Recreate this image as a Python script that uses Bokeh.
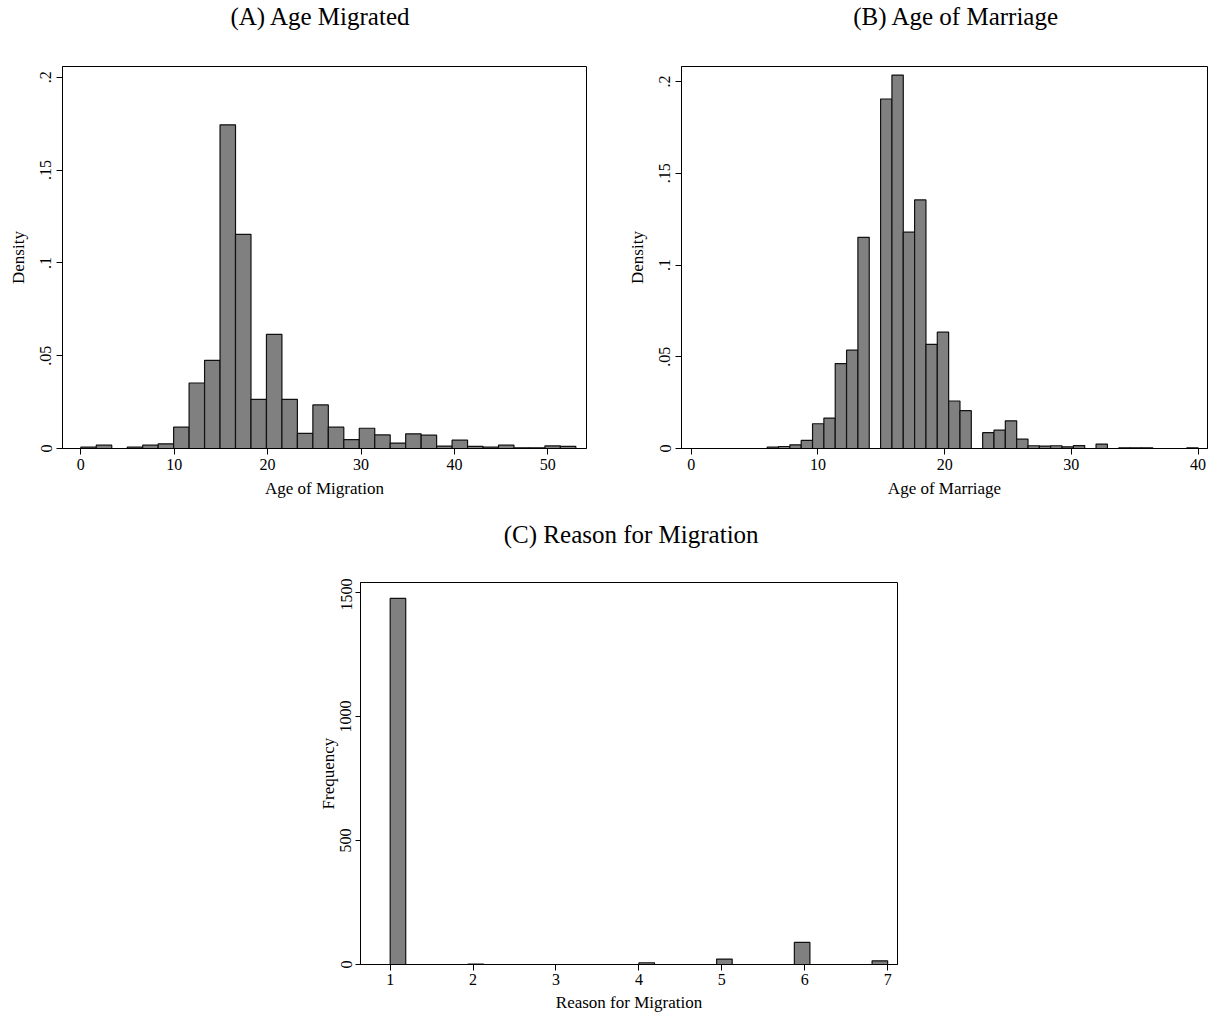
from bokeh.plotting import figure
from bokeh.models import Range1d, FixedTicker, Spacer, CustomJSTickFormatter
from bokeh.layouts import row, column
from bokeh.core.properties import value
from bokeh.embed import file_html
from bokeh.resources import INLINE

# ---------------- data ----------------
# (A) Age migrated: density histogram, 32 equal bins over [0, 53]
mig_bin_start = 0.0
mig_bin_end = 53.0
mig_density = [0.0007, 0.0018, 0.0, 0.0007, 0.0018, 0.0025, 0.0115, 0.0353,
               0.0475, 0.1744, 0.1154, 0.0265, 0.0615, 0.0265, 0.0082, 0.0235,
               0.0115, 0.0048, 0.0109, 0.0073, 0.0029, 0.0079, 0.0072, 0.0013,
               0.0045, 0.0011, 0.0007, 0.0018, 0.0004, 0.0004, 0.0014, 0.0011]
mig_xticks = [0, 10, 20, 30, 40, 50]
mig_yticks = [0, 0.05, 0.1, 0.15, 0.2]
mig_ylabels = ["0", ".05", ".1", ".15", ".2"]

# (B) Age of marriage: density histogram, 38 equal bins over [6, 40]
mar_bin_start = 6.0
mar_bin_end = 40.0
mar_density = [0.0007, 0.0011, 0.0020, 0.0044, 0.0135, 0.0166, 0.0463, 0.0536,
               0.1151, 0.0, 0.1905, 0.2035, 0.1179, 0.1355, 0.0568, 0.0634,
               0.0259, 0.0206, 0.0, 0.0086, 0.0100, 0.0151, 0.0051, 0.0015,
               0.0013, 0.0015, 0.0009, 0.0016, 0.0, 0.0024, 0.0, 0.0004,
               0.0004, 0.0004, 0.0, 0.0, 0.0, 0.0004]
mar_xticks = [0, 10, 20, 30, 40]
mar_yticks = [0, 0.05, 0.1, 0.15, 0.2]
mar_ylabels = ["0", ".05", ".1", ".15", ".2"]

# (C) Reason for migration: frequency, 32 equal bins over [1, 7]
reasons = [1, 2, 3, 4, 5, 6, 7]
reason_freq = [1476, 2, 0, 7, 22, 89, 15]
reason_bins = 32
reason_xticks = [1, 2, 3, 4, 5, 6, 7]
reason_yticks = [0, 500, 1000, 1500]
reason_ylabels = ["0", "500", "1000", "1500"]

titles = ["(A) Age Migrated", "(B) Age of Marriage", "(C) Reason for Migration"]

# ---------------- style ----------------
FONT = "Liberation Serif"
BAR_FILL = "#808080"
BAR_LINE = "#111111"
TITLE_H = 60


def hist_edges(start, end, n):
    w = (end - start) / n
    left = [start + i * w for i in range(n)]
    right = [start + (i + 1) * w for i in range(n)]
    return left, right


def label_formatter(tick_values, tick_labels):
    return CustomJSTickFormatter(
        args=dict(tvals=tick_values, tlabels=tick_labels),
        code="""
        for (let i = 0; i < tvals.length; i++) {
            if (Math.abs(tvals[i] - tick) < 1e-9) { return tlabels[i]; }
        }
        return String(tick);
        """)


def make_fig(fw, fh, xr, yr, mb_left, mb_right, mb_top, mb_bottom):
    p = figure(frame_width=fw, frame_height=fh,
               x_range=Range1d(*xr), y_range=Range1d(*yr),
               output_backend="svg", toolbar_location=None,
               min_border_left=mb_left, min_border_right=mb_right,
               min_border_top=mb_top, min_border_bottom=mb_bottom)
    p.background_fill_color = "white"
    p.border_fill_color = "white"
    p.xgrid.visible = False
    p.ygrid.visible = False
    p.outline_line_color = "black"
    p.outline_line_width = 1
    p.outline_line_alpha = 1
    return p


def title_fig(width, text, cx, cy):
    t = figure(width=width, height=TITLE_H, x_range=Range1d(0, width),
               y_range=Range1d(0, TITLE_H), x_axis_type=None, y_axis_type=None,
               output_backend="svg", toolbar_location=None,
               min_border_left=0, min_border_right=0, min_border_top=0,
               min_border_bottom=0)
    t.xgrid.visible = False
    t.ygrid.visible = False
    t.outline_line_color = None
    t.background_fill_color = "white"
    t.border_fill_color = "white"
    t.text(x=[cx], y=[TITLE_H - cy], text=[text], text_align="center",
           text_baseline="middle", text_font=value(FONT),
           text_font_size=value("25px"), text_color="black")
    return t


def style_axes(p, xlabel, ylabel, xticks, yticks, ylabels,
               x_std=(6, 4, 6), y_std=(6, 5, 10)):
    for ax in (p.xaxis[0], p.yaxis[0]):
        ax.axis_line_color = "black"
        ax.axis_line_width = 1
        ax.major_tick_line_color = "black"
        ax.major_tick_line_width = 1
        ax.minor_tick_line_color = None
        ax.major_tick_in = 0
        ax.major_label_text_font = FONT
        ax.major_label_text_font_size = "16px"
        ax.major_label_text_color = "black"
        ax.axis_label_text_font = FONT
        ax.axis_label_text_font_size = "17px"
        ax.axis_label_text_font_style = "normal"
        ax.axis_label_text_color = "black"
    xa, ya = p.xaxis[0], p.yaxis[0]
    xa.axis_label = xlabel
    ya.axis_label = ylabel
    xa.ticker = FixedTicker(ticks=xticks)
    ya.ticker = FixedTicker(ticks=yticks)
    ya.formatter = label_formatter(yticks, ylabels)
    ya.major_label_orientation = "vertical"
    xa.major_tick_out, xa.major_label_standoff, xa.axis_label_standoff = x_std
    ya.major_tick_out, ya.major_label_standoff, ya.axis_label_standoff = y_std


def draw_bars(p, left, right, top):
    l = [a for a, t in zip(left, top) if t > 0]
    r = [b for b, t in zip(right, top) if t > 0]
    tp = [t for t in top if t > 0]
    p.quad(left=l, right=r, bottom=0, top=tp,
           fill_color=BAR_FILL, line_color=BAR_LINE, line_width=1.2)


# ---------------- panel A ----------------
A_LEFT, A_FW, A_RIGHT = 62, 524, 23
pA = make_fig(A_FW, 382, (-1.96, 54.14), (0, 0.2058), A_LEFT, A_RIGHT, 6, 70)
la, ra = hist_edges(mig_bin_start, mig_bin_end, len(mig_density))
draw_bars(pA, la, ra, mig_density)
style_axes(pA, "Age of Migration", "Density", mig_xticks, mig_yticks, mig_ylabels)
tA = title_fig(A_LEFT + A_FW + A_RIGHT, titles[0], 300, 16)

# ---------------- panel B ----------------
B_LEFT, B_FW, B_RIGHT = 72, 526, 3
pB = make_fig(B_FW, 382, (-0.76, 40.74), (0, 0.2082), B_LEFT, B_RIGHT, 6, 70)
lb, rb = hist_edges(mar_bin_start, mar_bin_end, len(mar_density))
draw_bars(pB, lb, rb, mar_density)
style_axes(pB, "Age of Marriage", "Density", mar_xticks, mar_yticks, mar_ylabels)
tB = title_fig(B_LEFT + B_FW + B_RIGHT, titles[1], 314, 16)

# ---------------- panel C ----------------
C_SPACE, C_LEFT, C_FW, C_RIGHT = 298, 62, 537, 10
pC = make_fig(C_FW, 382, (0.642, 7.119), (0, 1540.3), C_LEFT, C_RIGHT, 4, 52)
r_start, r_end = min(reasons), max(reasons)
r_w = (r_end - r_start) / reason_bins
c_counts = [0] * reason_bins
for v, f in zip(reasons, reason_freq):
    k = min(int((v - r_start) / r_w), reason_bins - 1)
    c_counts[k] += f
lc, rc = hist_edges(r_start, r_end, reason_bins)
draw_bars(pC, lc, rc, c_counts)
style_axes(pC, "Reason for Migration", "Frequency", reason_xticks, reason_yticks,
           reason_ylabels, x_std=(6, 3, 5), y_std=(5, 4, 0))
tC = title_fig(C_LEFT + C_FW + C_RIGHT, titles[2], 307, 16)

layout = column(
    row(column(tA, pA), column(tB, pB)),
    row(Spacer(width=C_SPACE, height=10), column(tC, pC)),
)

open("out.html", "w").write(file_html(layout, INLINE, "Migration histograms"))
